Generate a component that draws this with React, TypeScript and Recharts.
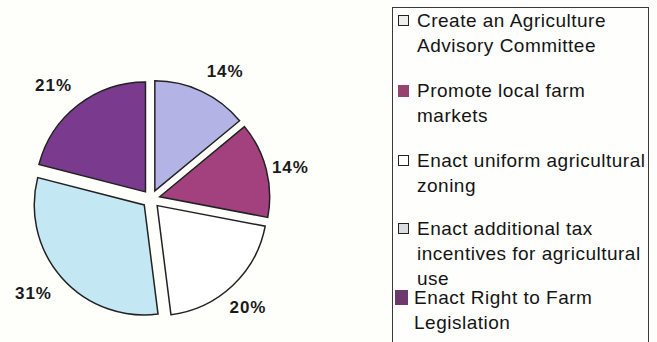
import { Cell, Legend, Pie, PieChart, Sector } from "recharts";

const categories = [
  "Create an Agriculture\nAdvisory Committee",
  "Promote local farm\nmarkets",
  "Enact uniform agricultural\nzoning",
  "Enact additional tax\nincentives for agricultural\nuse",
  "Enact Right to Farm\nLegislation",
];
const shares = [14, 14, 20, 31, 21];
const sliceColors = ["#b3b3e6", "#a3417f", "#ffffff", "#c3e7f3", "#7a3a8e"];

const data = categories.map((name, i) => ({ name, value: shares[i] }));

const FONT = '"Liberation Sans", Arial, Helvetica, sans-serif';
const EXPLODE = 9;
const RADIAN = Math.PI / 180;

// the original labels were hand placed, not exactly on the bisector
const LABEL_NUDGE = [
  [12, 5],
  [-2, 5],
  [-3, 2],
  [-8, -2],
  [-8, 2],
];

// legend swatches differ a bit from the slices in the original
const swatches = [
  { background: "#eeeeee", border: "1.5px solid #222", width: 11, height: 11 },
  { background: "#94446f", border: "none", width: 11, height: 12 },
  { background: "#ffffff", border: "1.5px solid #222", width: 11, height: 11 },
  { background: "#d9dde0", border: "1.5px solid #222", width: 11, height: 11 },
  { background: "#6e3a6e", border: "none", width: 13, height: 15 },
];
const ROW_TOPS = [0, 70, 140, 208, 277];

function ExplodedSector(props: any) {
  const { cx, cy, midAngle } = props;
  const dx = EXPLODE * Math.cos(-midAngle * RADIAN);
  const dy = EXPLODE * Math.sin(-midAngle * RADIAN);
  return <Sector {...props} cx={cx + dx} cy={cy + dy} />;
}

function renderLabel(props: any) {
  const { cx, cy, midAngle, value, index } = props;
  const r = 146;
  const [nx, ny] = LABEL_NUDGE[index] ?? [0, 0];
  const x = cx + r * Math.cos(-midAngle * RADIAN) + nx;
  const y = cy + r * Math.sin(-midAngle * RADIAN) + ny;
  return (
    <text
      x={x}
      y={y}
      textAnchor="middle"
      dominantBaseline="central"
      fontFamily={FONT}
      fontSize={17}
      fontWeight="bold"
      letterSpacing={1}
      fill="#1a1a1a"
    >
      {`${value}%`}
    </text>
  );
}

function LegendBox(props: any) {
  const payload = [...(props.payload ?? [])].sort(
    (a: any, b: any) => categories.indexOf(a.value) - categories.indexOf(b.value)
  );
  return (
    <div
      style={{
        position: "relative",
        width: 257,
        height: 345,
        boxSizing: "border-box",
        border: "1.5px solid #3a3a3a",
        background: "#fefefc",
        fontFamily: FONT,
        fontSize: 19,
        letterSpacing: 0.5,
        lineHeight: "25px",
        color: "#141414",
      }}
    >
      {payload.map((entry: any, i: number) => {
        const sw = swatches[i];
        return (
          <div key={i} style={{ position: "absolute", left: 0, top: ROW_TOPS[i], width: 255 }}>
            <span
              style={{
                position: "absolute",
                left: i === 4 ? 2 : 5,
                top: i === 4 ? 5 : 7,
                width: sw.width,
                height: sw.height,
                background: sw.background,
                border: sw.border,
                boxSizing: "border-box",
              }}
            />
            <div style={{ marginLeft: i === 4 ? 21 : 24, whiteSpace: "pre-line" }}>{entry.value}</div>
          </div>
        );
      })}
    </div>
  );
}

export default function App() {
  return (
    <div style={{ width: 657, height: 342, background: "#fefefa" }}>
      <style>{`body{margin:0;background:#fefefa}`}</style>
      <PieChart width={657} height={342} margin={{ top: 0, right: 0, bottom: 0, left: 0 }}>
        <Pie
          data={data}
          dataKey="value"
          nameKey="name"
          cx={151}
          cy={199}
          outerRadius={110}
          startAngle={90}
          endAngle={-270}
          stroke="#222"
          strokeWidth={1.5}
          shape={ExplodedSector}
          activeShape={ExplodedSector}
          inactiveShape={ExplodedSector}
          label={renderLabel}
          labelLine={false}
          isAnimationActive={false}
        >
          {data.map((d, i) => (
            <Cell key={d.name} fill={sliceColors[i]} />
          ))}
        </Pie>
        <Legend
          layout="vertical"
          align="right"
          verticalAlign="top"
          content={LegendBox}
          wrapperStyle={{ left: 392, top: 7, width: 257 }}
        />
      </PieChart>
    </div>
  );
}
